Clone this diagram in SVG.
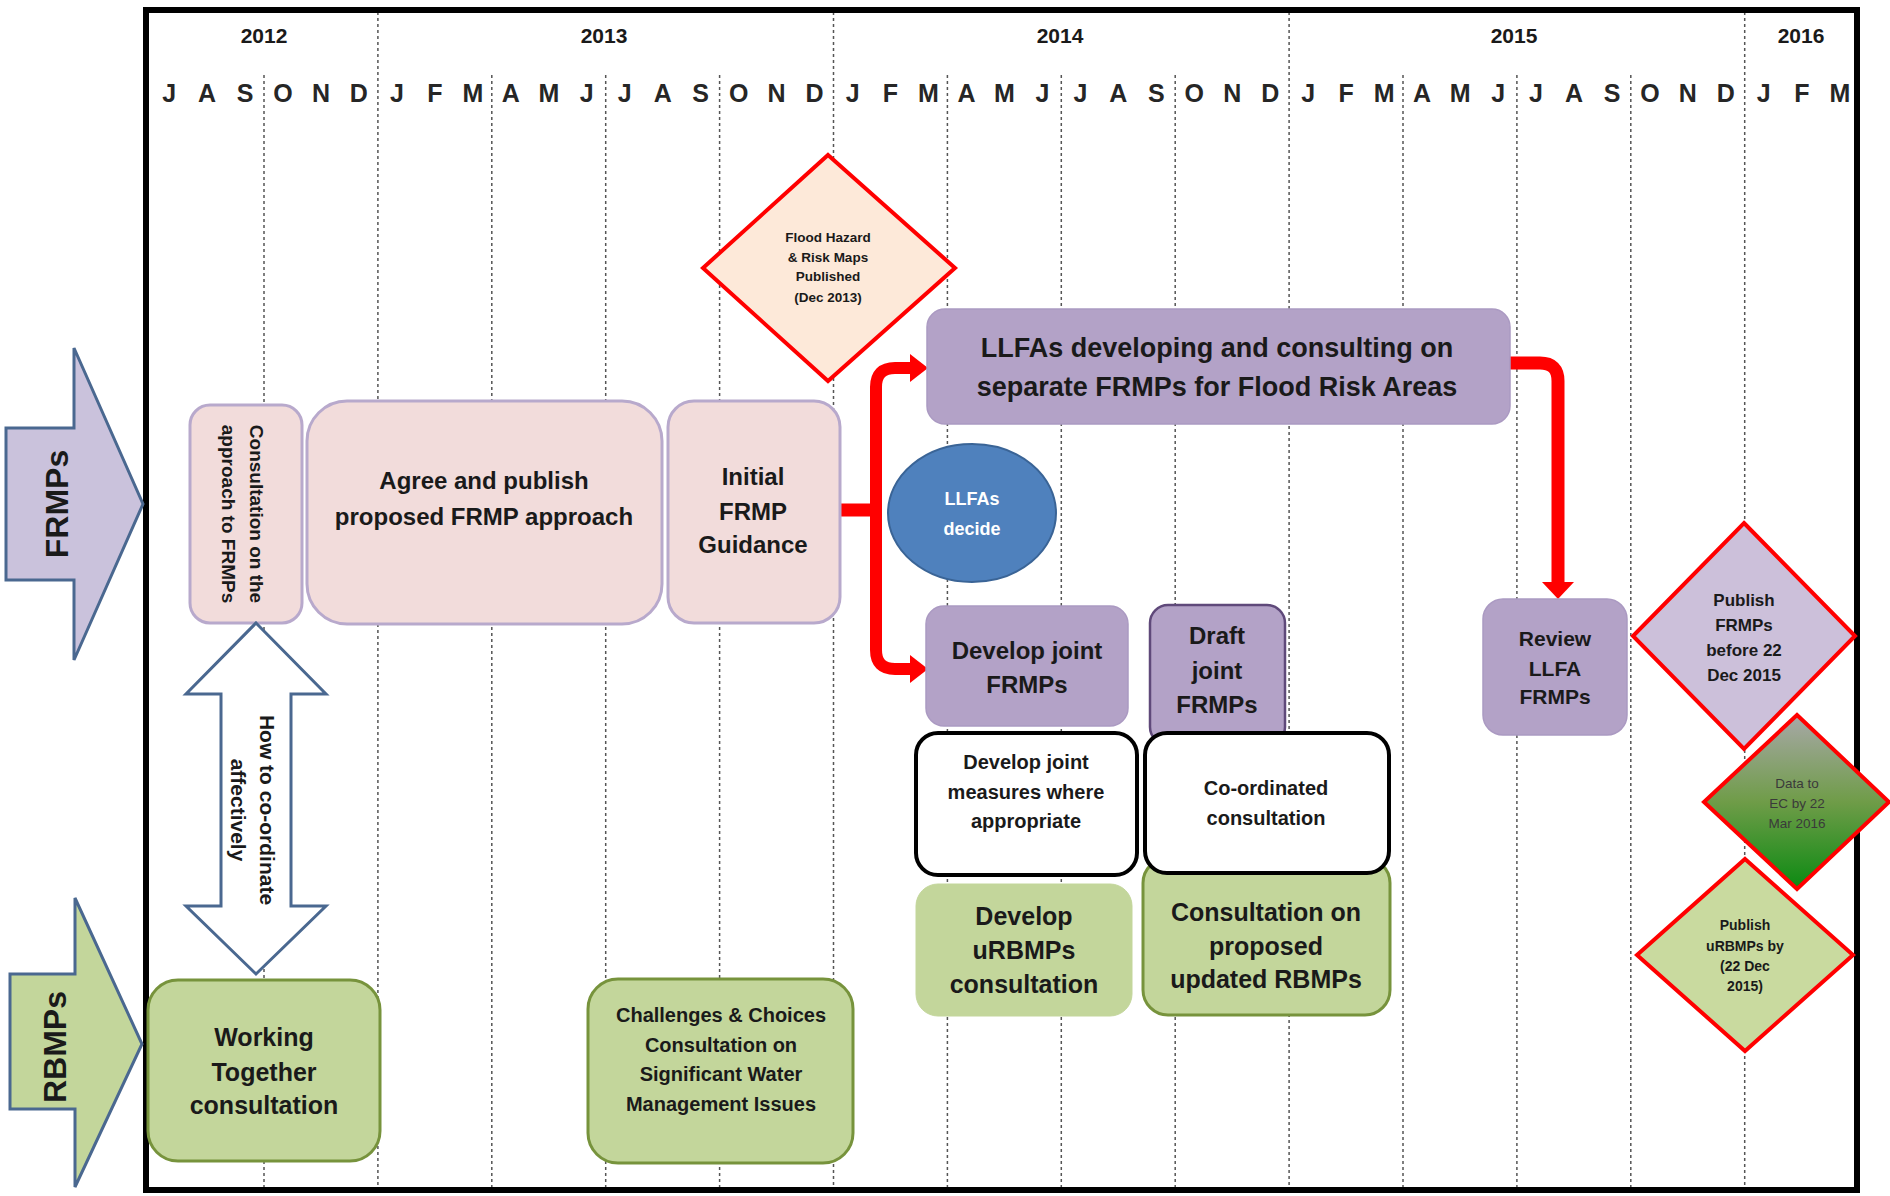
<svg xmlns="http://www.w3.org/2000/svg" width="1890" height="1196" viewBox="0 0 1890 1196">
<style>
text{font-family:"Liberation Sans",Arial,sans-serif;font-weight:bold;fill:#1a1a1a;text-anchor:middle}
.yr{font-size:21px}
.mo{font-size:25px;fill:#262626}
.grid{stroke:#555;stroke-width:1.5;stroke-dasharray:3 3;fill:none}
.pink{fill:#f2dcdb;stroke:#b8a9cc;stroke-width:3}
.purple{fill:#b3a2c7;stroke:#ab9ac2;stroke-width:1.5}
.green{fill:#c3d69b;stroke:#77933c;stroke-width:3}
.greenl{fill:#c3d69b;stroke:#c3d69b;stroke-width:1}
.white{fill:#fff;stroke:#000;stroke-width:4}
.dia{stroke:#ff0000;stroke-width:4}
.red{stroke:#ff0000;fill:none;stroke-width:13}
.redh{fill:#ff0000}
.bigarrow{stroke:#4a6890;stroke-width:3}
</style>
<defs>
<linearGradient id="gdata" x1="0" y1="0" x2="0" y2="1">
<stop offset="0" stop-color="#a8a8a8"/>
<stop offset="0.5" stop-color="#6f9c48"/>
<stop offset="1" stop-color="#0b8a12"/>
</linearGradient>
</defs>
<rect width="1890" height="1196" fill="#fff"/>

<g id="grid">
<line class="grid" x1="264" y1="75" x2="264" y2="1190"/>
<line class="grid" x1="377.9" y1="12" x2="377.9" y2="1190"/>
<line class="grid" x1="491.8" y1="75" x2="491.8" y2="1190"/>
<line class="grid" x1="605.7" y1="75" x2="605.7" y2="1190"/>
<line class="grid" x1="719.6" y1="75" x2="719.6" y2="1190"/>
<line class="grid" x1="833.5" y1="12" x2="833.5" y2="1190"/>
<line class="grid" x1="947.4" y1="75" x2="947.4" y2="1190"/>
<line class="grid" x1="1061.3" y1="75" x2="1061.3" y2="1190"/>
<line class="grid" x1="1175.2" y1="75" x2="1175.2" y2="1190"/>
<line class="grid" x1="1289.1" y1="12" x2="1289.1" y2="1190"/>
<line class="grid" x1="1403" y1="75" x2="1403" y2="1190"/>
<line class="grid" x1="1516.9" y1="75" x2="1516.9" y2="1190"/>
<line class="grid" x1="1630.8" y1="75" x2="1630.8" y2="1190"/>
<line class="grid" x1="1744.7" y1="12" x2="1744.7" y2="1190"/>
</g>

<g id="frame">
<rect x="146" y="10" width="1711" height="1180" fill="none" stroke="#000" stroke-width="6"/>
</g>

<g id="years">
<text class="yr" x="264" y="43">2012</text>
<text class="yr" x="604" y="43">2013</text>
<text class="yr" x="1060" y="43">2014</text>
<text class="yr" x="1514" y="43">2015</text>
<text class="yr" x="1801" y="43">2016</text>
</g>

<g id="months">
<text class="mo" x="169.1" y="102">J</text>
<text class="mo" x="207.1" y="102">A</text>
<text class="mo" x="245.0" y="102">S</text>
<text class="mo" x="283.0" y="102">O</text>
<text class="mo" x="321.0" y="102">N</text>
<text class="mo" x="358.9" y="102">D</text>
<text class="mo" x="396.9" y="102">J</text>
<text class="mo" x="434.9" y="102">F</text>
<text class="mo" x="472.9" y="102">M</text>
<text class="mo" x="510.8" y="102">A</text>
<text class="mo" x="548.8" y="102">M</text>
<text class="mo" x="586.8" y="102">J</text>
<text class="mo" x="624.7" y="102">J</text>
<text class="mo" x="662.7" y="102">A</text>
<text class="mo" x="700.7" y="102">S</text>
<text class="mo" x="738.7" y="102">O</text>
<text class="mo" x="776.6" y="102">N</text>
<text class="mo" x="814.6" y="102">D</text>
<text class="mo" x="852.6" y="102">J</text>
<text class="mo" x="890.5" y="102">F</text>
<text class="mo" x="928.5" y="102">M</text>
<text class="mo" x="966.5" y="102">A</text>
<text class="mo" x="1004.4" y="102">M</text>
<text class="mo" x="1042.4" y="102">J</text>
<text class="mo" x="1080.4" y="102">J</text>
<text class="mo" x="1118.4" y="102">A</text>
<text class="mo" x="1156.3" y="102">S</text>
<text class="mo" x="1194.3" y="102">O</text>
<text class="mo" x="1232.3" y="102">N</text>
<text class="mo" x="1270.2" y="102">D</text>
<text class="mo" x="1308.2" y="102">J</text>
<text class="mo" x="1346.2" y="102">F</text>
<text class="mo" x="1384.1" y="102">M</text>
<text class="mo" x="1422.1" y="102">A</text>
<text class="mo" x="1460.1" y="102">M</text>
<text class="mo" x="1498.1" y="102">J</text>
<text class="mo" x="1536.0" y="102">J</text>
<text class="mo" x="1574.0" y="102">A</text>
<text class="mo" x="1612.0" y="102">S</text>
<text class="mo" x="1649.9" y="102">O</text>
<text class="mo" x="1687.9" y="102">N</text>
<text class="mo" x="1725.9" y="102">D</text>
<text class="mo" x="1763.8" y="102">J</text>
<text class="mo" x="1801.8" y="102">F</text>
<text class="mo" x="1839.8" y="102">M</text>
</g>

<g id="frmps-arrow">
<path class="bigarrow" fill="#cac2dc" d="M6,428 L74,428 L74,348 L143,504 L74,660 L74,580 L6,580 Z"/>
<text transform="translate(68,504) rotate(-90)" style="font-size:32px">FRMPs</text>
</g>

<g id="rbmps-arrow">
<path class="bigarrow" fill="#c3d69b" d="M10,974 L75,974 L75,898 L142,1044 L75,1187 L75,1109 L10,1109 Z"/>
<text transform="translate(66,1047) rotate(-90)" style="font-size:32px">RBMPs</text>
</g>

<g id="connectors">
<path class="red" d="M840,510 L876,510"/>
<path class="red" d="M914,368 L895,368 Q876,368 876,387 L876,650 Q876,669 895,669 L914,669" style="stroke-width:12"/>
<polygon class="redh" points="910,354 928,368 910,382"/>
<polygon class="redh" points="910,655 928,669 910,683"/>
<path class="red" d="M1510,363 L1540,363 Q1558,363 1558,381 L1558,584"/>
<polygon class="redh" points="1542,582 1574,582 1558,599"/>
</g>

<g id="consultation-approach">
<rect class="pink" x="190" y="405" width="112" height="218" rx="20"/>
<text transform="translate(250,514) rotate(90)" style="font-size:19px">Consultation on the</text>
<text transform="translate(222,514) rotate(90)" style="font-size:19px">approach to FRMPs</text>
</g>

<g id="agree-publish">
<rect class="pink" x="307" y="401" width="355" height="223" rx="40"/>
<text x="484" y="489" style="font-size:24px">Agree and publish</text>
<text x="484" y="525" style="font-size:24px">proposed FRMP approach</text>
</g>

<g id="initial-guidance">
<rect class="pink" x="668" y="401" width="172" height="222" rx="26"/>
<text x="753" y="485" style="font-size:24px">Initial</text>
<text x="753" y="520" style="font-size:24px">FRMP</text>
<text x="753" y="553" style="font-size:24px">Guidance</text>
</g>

<g id="coordinate-arrow">
<path fill="#fff" stroke="#4a6890" stroke-width="3" d="M256,623 L326,694 L291,694 L291,906 L326,906 L256,974 L186,906 L221,906 L221,694 L186,694 Z"/>
<text transform="translate(260,810) rotate(90)" style="font-size:21px">How to co-ordinate</text>
<text transform="translate(231,810) rotate(90)" style="font-size:21px">affectively</text>
</g>

<g id="flood-maps">
<polygon class="dia" fill="#fde9d9" points="828,155 955,268 828,381 703,268"/>
<text x="828" y="242" style="font-size:13.5px">Flood Hazard</text>
<text x="828" y="262" style="font-size:13.5px">&amp; Risk Maps</text>
<text x="828" y="281" style="font-size:13.5px">Published</text>
<text x="828" y="302" style="font-size:13.5px">(Dec 2013)</text>
</g>

<g id="llfas-developing">
<rect class="purple" x="927" y="309" width="583" height="115" rx="18"/>
<text x="1217" y="357" style="font-size:27px">LLFAs developing and consulting on</text>
<text x="1217" y="396" style="font-size:27px">separate FRMPs for Flood Risk Areas</text>
</g>

<g id="llfas-decide">
<ellipse cx="972" cy="513" rx="84" ry="69" fill="#4f81bd" stroke="#3a6496" stroke-width="2"/>
<text x="972" y="505" style="font-size:18px;fill:#fff">LLFAs</text>
<text x="972" y="535" style="font-size:18px;fill:#fff">decide</text>
</g>

<g id="develop-joint-frmps">
<rect class="purple" x="926" y="606" width="202" height="120" rx="18"/>
<text x="1027" y="659" style="font-size:24px">Develop joint</text>
<text x="1027" y="693" style="font-size:24px">FRMPs</text>
</g>

<g id="draft-joint-frmps">
<rect class="purple" x="1150" y="605" width="135" height="140" rx="18" style="stroke:#5f497a;stroke-width:2.5"/>
<text x="1217" y="644" style="font-size:24px">Draft</text>
<text x="1217" y="679" style="font-size:24px">joint</text>
<text x="1217" y="713" style="font-size:24px">FRMPs</text>
</g>

<g id="develop-urbmps">
<rect class="greenl" x="916" y="884" width="216" height="132" rx="22"/>
<text x="1024" y="925" style="font-size:25px">Develop</text>
<text x="1024" y="959" style="font-size:25px">uRBMPs</text>
<text x="1024" y="993" style="font-size:25px">consultation</text>
</g>

<g id="consultation-proposed">
<rect class="green" x="1143" y="858" width="247" height="157" rx="25"/>
<text x="1266" y="921" style="font-size:25px">Consultation on</text>
<text x="1266" y="955" style="font-size:25px">proposed</text>
<text x="1266" y="988" style="font-size:25px">updated RBMPs</text>
</g>

<g id="develop-joint-measures">
<rect class="white" x="916" y="733" width="221" height="142" rx="22"/>
<text x="1026" y="769" style="font-size:20px">Develop joint</text>
<text x="1026" y="799" style="font-size:20px">measures where</text>
<text x="1026" y="828" style="font-size:20px">appropriate</text>
</g>

<g id="coordinated-consultation">
<rect class="white" x="1145" y="733" width="244" height="140" rx="22"/>
<text x="1266" y="795" style="font-size:20px">Co-ordinated</text>
<text x="1266" y="825" style="font-size:20px">consultation</text>
</g>

<g id="review-llfa">
<rect class="purple" x="1483" y="599" width="144" height="136" rx="20"/>
<text x="1555" y="646" style="font-size:21px">Review</text>
<text x="1555" y="676" style="font-size:21px">LLFA</text>
<text x="1555" y="704" style="font-size:21px">FRMPs</text>
</g>

<g id="working-together">
<rect class="green" x="148" y="980" width="232" height="181" rx="30"/>
<text x="264" y="1046" style="font-size:25px">Working</text>
<text x="264" y="1081" style="font-size:25px">Together</text>
<text x="264" y="1114" style="font-size:25px">consultation</text>
</g>

<g id="challenges-choices">
<rect class="green" x="588" y="979" width="265" height="184" rx="30"/>
<text x="721" y="1022" style="font-size:20px">Challenges &amp; Choices</text>
<text x="721" y="1052" style="font-size:20px">Consultation on</text>
<text x="721" y="1081" style="font-size:20px">Significant Water</text>
<text x="721" y="1111" style="font-size:20px">Management Issues</text>
</g>

<g id="publish-frmps">
<polygon class="dia" fill="#ccc0da" points="1744,523 1855,636 1744,749 1633,636"/>
<text x="1744" y="606" style="font-size:17px">Publish</text>
<text x="1744" y="631" style="font-size:17px">FRMPs</text>
<text x="1744" y="656" style="font-size:17px">before 22</text>
<text x="1744" y="681" style="font-size:17px">Dec 2015</text>
</g>

<g id="data-to-ec">
<polygon class="dia" fill="url(#gdata)" points="1797,715 1889,802 1797,889 1704,802"/>
<text x="1797" y="788" style="font-size:13.5px;font-weight:normal;fill:#3a3a3a">Data to</text>
<text x="1797" y="808" style="font-size:13.5px;font-weight:normal;fill:#3a3a3a">EC by 22</text>
<text x="1797" y="828" style="font-size:13.5px;font-weight:normal;fill:#3a3a3a">Mar 2016</text>
</g>

<g id="publish-urbmps">
<polygon class="dia" fill="#c9da9f" points="1745,859 1853,955 1745,1051 1637,955"/>
<text x="1745" y="930" style="font-size:14px">Publish</text>
<text x="1745" y="951" style="font-size:14px">uRBMPs by</text>
<text x="1745" y="971" style="font-size:14px">(22 Dec</text>
<text x="1745" y="991" style="font-size:14px">2015)</text>
</g>
</svg>
